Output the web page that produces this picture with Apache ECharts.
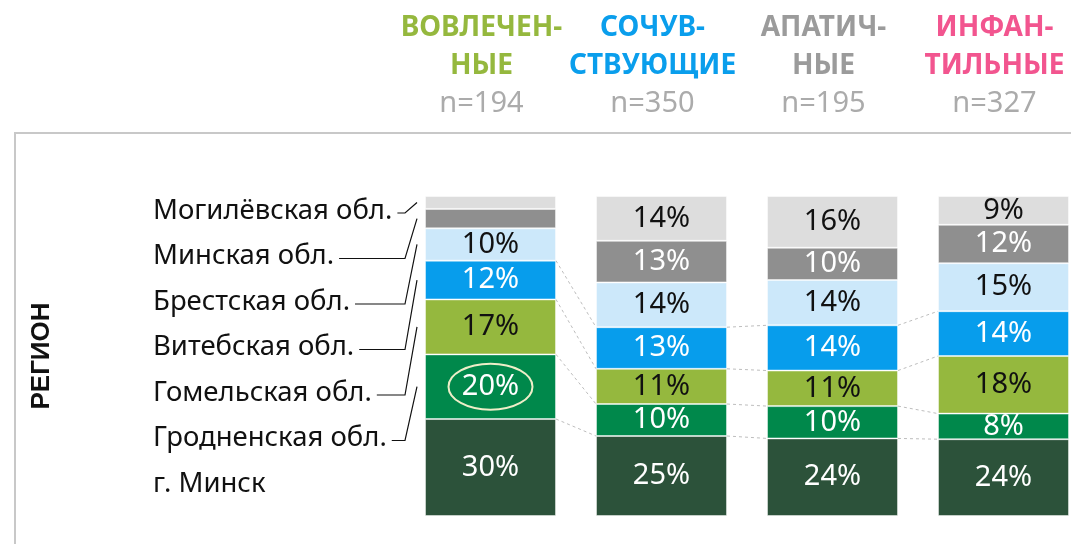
<!DOCTYPE html>
<html>
<head>
<meta charset="utf-8">
<script src="https://cdn.jsdelivr.net/npm/echarts@6/dist/echarts.min.js"></script>
<style>
  html, body { margin: 0; padding: 0; background: #fff; }
  #main { width: 1071px; height: 544px; }
</style>
</head>
<body>
<div id="main"></div>
<script>
// группы (столбцы) и размер выборки
var groups = ['ВОВЛЕЧЕН-\nНЫЕ', 'СОЧУВ-\nСТВУЮЩИЕ', 'АПАТИЧ-\nНЫЕ', 'ИНФАН-\nТИЛЬНЫЕ'];
var sampleN = [194, 350, 195, 327];
var groupStyle = ['g', 'b', 'a', 'p'];

// регионы снизу вверх, значения в %
var regions = ['г. Минск', 'Гродненская обл.', 'Гомельская обл.', 'Витебская обл.', 'Брестская обл.', 'Минская обл.', 'Могилёвская обл.'];
var minskCity = [30, 25, 24, 24];
var grodno    = [20, 10, 10, 8];
var gomel     = [17, 11, 11, 18];
var vitebsk   = [12, 13, 14, 14];
var brest     = [10, 14, 14, 15];
var minskObl  = [6, 13, 10, 12];
var mogilev   = [4, 14, 16, 9];

var values = [minskCity, grodno, gomel, vitebsk, brest, minskObl, mogilev];
var colors = ['#2c523a', '#00884b', '#95b83e', '#079dec', '#cce8fa', '#8f8f8f', '#dddddd'];
var textColors = ['#fff', '#fff', '#111', '#fff', '#111', '#fff', '#111'];

// сумма по столбцу (для приведения к 100%)
var totals = groups.map(function (g, c) {
    var s = 0;
    values.forEach(function (v) { s += v[c]; });
    return s;
});

var BAR_W = 131;
var FONT = '"Noto Sans", "DejaVu Sans", sans-serif';
var LABEL_FS = 27.5;

var series = values.map(function (v, i) {
    return {
        name: regions[i],
        type: 'bar',
        stack: 'all',
        barWidth: BAR_W,
        silent: true,
        itemStyle: {
            color: colors[i],
            borderColor: 'rgba(255,255,255,0.45)',
            borderWidth: 1
        },
        label: {
            show: true,
            position: 'inside',
            color: textColors[i],
            fontFamily: FONT,
            fontSize: 29,
            formatter: function (p) {
                var raw = v[p.dataIndex];
                return raw < 7 ? '' : raw + '%';
            }
        },
        data: v.map(function (x, c) { return x / totals[c] * 100; })
    };
});

var myChart = echarts.init(document.getElementById('main'));
var option = {
    animation: false,
    grid: {
        left: 405,
        top: 196,
        width: 684,
        bottom: 28,
        outerBoundsMode: 'none'
    },
    xAxis: {
        type: 'category',
        position: 'top',
        data: groups,
        axisLine: {show: false},
        axisTick: {show: false},
        axisLabel: {
            interval: 0,
            margin: 73,
            padding: [0, 18, 0, 0],
            formatter: function (val, idx) {
                var st = groupStyle[idx];
                var lines = val.split('\n');
                return '{' + st + '|' + lines[0] + '}\n{' + st + '|' + lines[1] + '}\n{n|n=' + sampleN[idx] + '}';
            },
            rich: {
                g: {color: '#95b83e', fontFamily: FONT, fontWeight: 'bold', fontSize: 28, lineHeight: 38},
                b: {color: '#0a9eec', fontFamily: FONT, fontWeight: 'bold', fontSize: 28, lineHeight: 38},
                a: {color: '#9b9b9b', fontFamily: FONT, fontWeight: 'bold', fontSize: 28, lineHeight: 38},
                p: {color: '#f2558f', fontFamily: FONT, fontWeight: 'bold', fontSize: 28, lineHeight: 38},
                n: {color: '#ababab', fontFamily: FONT, fontSize: 29, lineHeight: 38}
            }
        }
    },
    yAxis: {
        type: 'value',
        min: 0,
        max: 100,
        show: false
    },
    series: series
};
myChart.setOption(option);

// подписи регионов, выноски и пунктирные соединители
function drawExtras() {
    var ctx = document.createElement('canvas').getContext('2d');
    ctx.font = LABEL_FS + 'px ' + FONT;
    var els = [];

    // рамка панели
    els.push({
        type: 'polyline',
        shape: {points: [[15, 544], [15, 133], [1071, 133]]},
        style: {stroke: '#c8c8c8', lineWidth: 2, fill: null}
    });
    els.push({
        type: 'text',
        x: 42, y: 356,
        rotation: Math.PI / 2,
        style: {
            text: 'РЕГИОН',
            font: 'bold 26px "Liberation Sans", Arial, sans-serif',
            fill: '#111',
            align: 'center',
            verticalAlign: 'middle'
        }
    });

    var xc = groups.map(function (g, c) { return myChart.convertToPixel({xAxisIndex: 0}, c); });

    // накопленные суммы
    var cum = [];
    groups.forEach(function (g, c) {
        var acc = 0, arr = [0];
        values.forEach(function (v) { acc += v[c] / totals[c] * 100; arr.push(acc); });
        cum.push(arr);
    });
    function py(val) { return myChart.convertToPixel({yAxisIndex: 0}, val); }

    // подписи слева (сверху вниз)
    for (var k = 0; k < regions.length; k++) {
        var ri = regions.length - 1 - k;
        var ty = 211 + k * 45.5;
        els.push({
            type: 'text',
            x: 153, y: ty,
            style: {
                text: regions[ri],
                font: LABEL_FS + 'px ' + FONT,
                fill: '#111',
                align: 'left',
                verticalAlign: 'middle'
            }
        });
        if (ri > 0) {
            var tw = ctx.measureText(regions[ri]).width;
            var ly = ty + 2;
            var segMid = py((cum[0][ri] + cum[0][ri + 1]) / 2);
            var x0 = Math.min(153 + tw + 5, 404);
            var ex = xc[0] - BAR_W / 2 - 8;
            els.push({
                type: 'polyline',
                shape: {points: [[x0, ly], [405, ly], [ex, segMid]]},
                style: {stroke: '#111', lineWidth: 1.2, fill: null}
            });
        }
    }

    // соединители между столбцами: верх г. Минска, Гродненской, Гомельской, Витебской
    for (var b = 1; b <= 4; b++) {
        for (var c = 0; c < groups.length - 1; c++) {
            els.push({
                type: 'line',
                shape: {
                    x1: xc[c] + BAR_W / 2, y1: py(cum[c][b]),
                    x2: xc[c + 1] - BAR_W / 2, y2: py(cum[c + 1][b])
                },
                style: {stroke: '#bdbdbd', lineWidth: 1, lineDash: [3, 3]}
            });
        }
    }

    // выделение 20%
    els.push({
        type: 'ellipse',
        shape: {cx: xc[0], cy: py((cum[0][1] + cum[0][2]) / 2), rx: 42, ry: 23},
        style: {stroke: '#eeeec8', lineWidth: 2, fill: null},
        z: 100
    });

    myChart.setOption({graphic: els});
}
drawExtras();
</script>
</body>
</html>
